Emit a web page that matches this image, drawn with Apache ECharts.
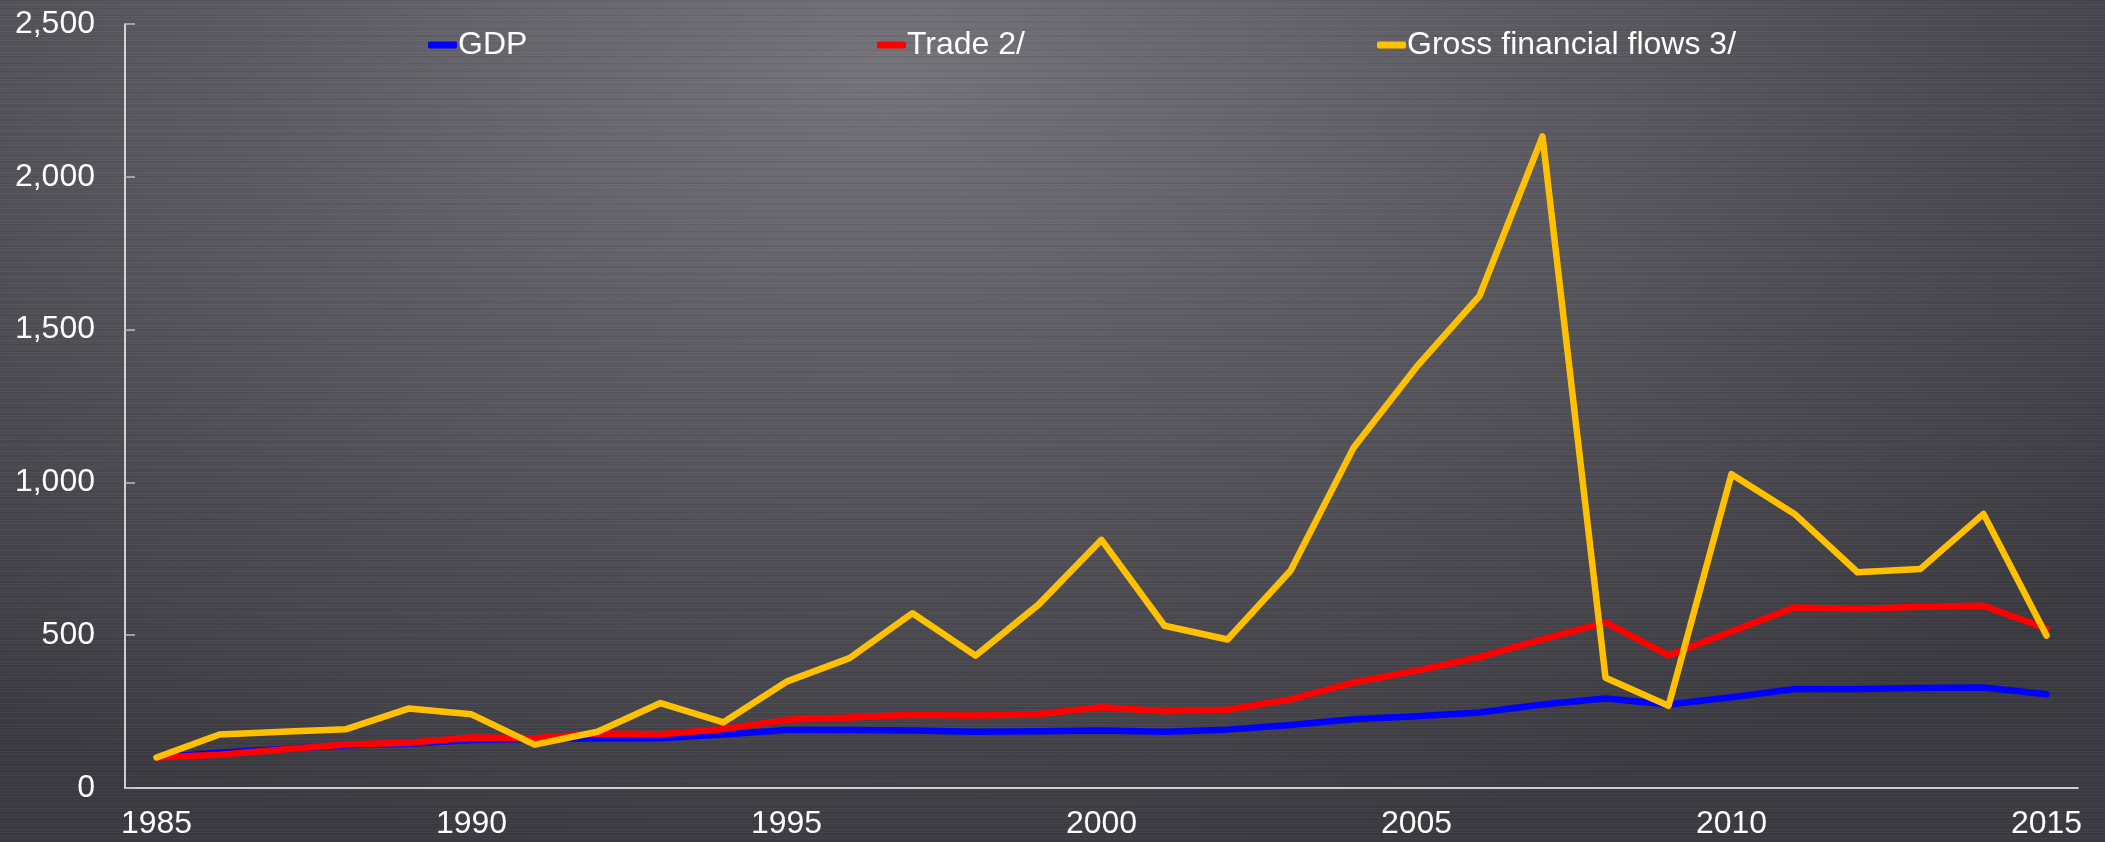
<!DOCTYPE html>
<html>
<head>
<meta charset="utf-8">
<script src="https://cdn.jsdelivr.net/npm/echarts@6/dist/echarts.min.js"></script>
<style>
html,body{margin:0;padding:0;width:2105px;height:842px;overflow:hidden;}
#bg{position:absolute;left:0;top:0;width:2105px;height:842px;
background:
 repeating-linear-gradient(0deg, rgba(255,255,255,0.035) 0px, rgba(255,255,255,0.035) 1px, rgba(0,0,0,0) 1px, rgba(0,0,0,0) 3px),
 repeating-linear-gradient(0deg, rgba(0,0,0,0.05) 0px, rgba(0,0,0,0.05) 2px, rgba(0,0,0,0) 2px, rgba(0,0,0,0) 7px),
 radial-gradient(ellipse 75% 95% at 42% 8%, #737379 0%, #5b5b61 40%, #47474d 75%, #3a3a40 100%);}
#chart{position:absolute;left:0;top:0;width:2105px;height:842px;}
</style>
</head>
<body>
<div id="bg"></div>
<div id="chart"></div>
<script>
const years = ['1985','1986','1987','1988','1989','1990','1991','1992','1993','1994','1995','1996','1997','1998','1999','2000','2001','2002','2003','2004','2005','2006','2007','2008','2009','2010','2011','2012','2013','2014','2015'];
const gdp   = [100,115,128,140,145,157,160,162,163,175,190,190,188,184,186,188,184,191,206,225,235,247,273,293,273,297,324,324,327,329,307];
const trade = [100,109,126,142,148,165,163,178,176,193,223,231,240,237,242,264,251,256,290,345,384,428,486,542,434,512,591,586,593,596,522];
const gross = [100,175,184,192,260,241,142,184,278,215,348,425,572,433,600,812,531,486,711,1113,1378,1610,2132,361,269,1027,897,706,717,897,499];
const yTicks = [0,500,1000,1500,2000,2500];

const chart = echarts.init(document.getElementById('chart'), null, {renderer:'canvas'});
const font = 'Liberation Sans, Arial, sans-serif';
function legend(name, left){
  return {data:[name], left:left, top:24, icon:'roundRect', itemWidth:29, itemHeight:7,
    textStyle:{color:'#ffffff', fontSize:32, fontFamily:font, padding:[0,0,0,-4]}, selectedMode:false};
}
chart.setOption({
  backgroundColor:'transparent',
  animation:false,
  legend:[legend('GDP',423), legend('Trade 2/',872), legend('Gross financial flows 3/',1372)],
  grid:{left:125, right:27, top:24, bottom:54, containLabel:false},
  xAxis:{type:'category', data:years, boundaryGap:true,
    axisLine:{lineStyle:{color:'#ffffff', width:1.5}},
    axisTick:{inside:true, length:10, interval:4, lineStyle:{color:'#bdbdbd', width:1.5}},
    axisLabel:{interval:4, color:'#ffffff', fontSize:32, fontFamily:font, margin:20},
    splitLine:{show:false}},
  yAxis:{type:'value', min:yTicks[0], max:yTicks[yTicks.length-1], interval:500,
    axisLine:{show:true, lineStyle:{color:'#ffffff', width:1.5}},
    axisTick:{show:true, inside:true, length:10, lineStyle:{color:'#bdbdbd', width:1.5}},
    axisLabel:{color:'#ffffff', fontSize:32, fontFamily:font, margin:30,
      formatter:v=>v.toLocaleString('en-US')},
    splitLine:{show:false}},
  series:[
    {name:'GDP', type:'line', data:gdp, showSymbol:false, color:'#0000ff',
      lineStyle:{color:'#0000ff', width:6.5, cap:'round', join:'round'}},
    {name:'Trade 2/', type:'line', data:trade, showSymbol:false, color:'#ff0000',
      lineStyle:{color:'#ff0000', width:6.5, cap:'round', join:'round'}},
    {name:'Gross financial flows 3/', type:'line', data:gross, showSymbol:false, color:'#ffc000',
      lineStyle:{color:'#ffc000', width:6.5, cap:'round', join:'round'}}
  ]
});
</script>
</body>
</html>
